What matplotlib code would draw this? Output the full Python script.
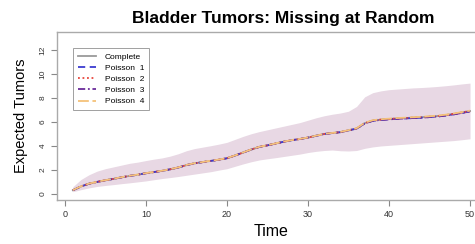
import numpy as np
import matplotlib.pyplot as plt

plt.rcParams['font.family'] = ['Liberation Sans', 'DejaVu Sans']

# time points
time = list(range(1, 51))

# expected tumors, complete data
complete = [0.30, 0.62, 0.85, 1.00, 1.13, 1.25, 1.38, 1.50, 1.60, 1.72,
            1.82, 1.92, 2.05, 2.20, 2.40, 2.55, 2.65, 2.75, 2.85, 2.97,
            3.20, 3.45, 3.70, 3.92, 4.05, 4.20, 4.35, 4.48, 4.58, 4.70,
            4.85, 5.00, 5.08, 5.15, 5.30, 5.45, 5.90, 6.12, 6.20, 6.25,
            6.30, 6.33, 6.37, 6.40, 6.45, 6.50, 6.58, 6.68, 6.80, 6.92]

# poisson fits (lie on top of the complete curve)
poisson1 = [0.30, 0.62, 0.85, 1.00, 1.13, 1.25, 1.38, 1.50, 1.60, 1.72,
            1.82, 1.92, 2.05, 2.20, 2.40, 2.55, 2.65, 2.75, 2.85, 2.97,
            3.20, 3.45, 3.70, 3.92, 4.05, 4.20, 4.35, 4.48, 4.58, 4.70,
            4.85, 5.00, 5.08, 5.15, 5.30, 5.45, 5.88, 6.10, 6.18, 6.22,
            6.27, 6.30, 6.33, 6.36, 6.41, 6.46, 6.54, 6.64, 6.76, 6.88]
poisson2 = [0.30, 0.62, 0.85, 1.00, 1.13, 1.25, 1.38, 1.50, 1.60, 1.72,
            1.82, 1.92, 2.05, 2.20, 2.40, 2.55, 2.65, 2.75, 2.85, 2.97,
            3.20, 3.45, 3.70, 3.92, 4.05, 4.20, 4.35, 4.48, 4.58, 4.70,
            4.85, 5.00, 5.08, 5.15, 5.30, 5.45, 5.90, 6.12, 6.20, 6.25,
            6.30, 6.33, 6.37, 6.40, 6.45, 6.50, 6.58, 6.68, 6.80, 6.92]
poisson3 = [0.30, 0.62, 0.85, 1.00, 1.13, 1.25, 1.38, 1.50, 1.60, 1.72,
            1.82, 1.92, 2.05, 2.20, 2.40, 2.55, 2.65, 2.75, 2.85, 2.97,
            3.20, 3.45, 3.70, 3.92, 4.05, 4.20, 4.35, 4.48, 4.58, 4.70,
            4.85, 5.00, 5.08, 5.15, 5.30, 5.45, 5.88, 6.10, 6.18, 6.22,
            6.27, 6.30, 6.33, 6.36, 6.41, 6.46, 6.54, 6.64, 6.76, 6.88]
poisson4 = [0.31, 0.63, 0.86, 1.01, 1.14, 1.26, 1.39, 1.51, 1.61, 1.73,
            1.83, 1.93, 2.06, 2.21, 2.41, 2.56, 2.66, 2.76, 2.86, 2.98,
            3.21, 3.46, 3.71, 3.93, 4.06, 4.21, 4.36, 4.49, 4.59, 4.71,
            4.86, 5.01, 5.09, 5.17, 5.32, 5.48, 5.93, 6.15, 6.23, 6.28,
            6.33, 6.36, 6.40, 6.43, 6.48, 6.53, 6.61, 6.71, 6.83, 6.95]

# confidence band
band_low = [0.18, 0.35, 0.50, 0.62, 0.70, 0.77, 0.85, 0.92, 1.00, 1.08,
            1.18, 1.28, 1.36, 1.45, 1.55, 1.65, 1.75, 1.85, 1.98, 2.10,
            2.30, 2.50, 2.68, 2.83, 2.93, 3.02, 3.12, 3.22, 3.32, 3.45,
            3.55, 3.62, 3.66, 3.60, 3.58, 3.62, 3.80, 3.92, 4.00, 4.05,
            4.10, 4.15, 4.20, 4.25, 4.30, 4.35, 4.40, 4.45, 4.52, 4.60]
band_high = [0.60, 1.20, 1.60, 1.90, 2.10, 2.25, 2.40, 2.55, 2.65, 2.78,
             2.90, 3.00, 3.15, 3.35, 3.60, 3.78, 3.90, 4.02, 4.15, 4.30,
             4.55, 4.80, 5.02, 5.20, 5.35, 5.50, 5.65, 5.80, 5.95, 6.15,
             6.35, 6.52, 6.65, 6.75, 6.90, 7.30, 8.10, 8.45, 8.60, 8.70,
             8.75, 8.80, 8.85, 8.88, 8.92, 8.97, 9.03, 9.10, 9.18, 9.25]

labels = ['Complete', 'Poisson  1', 'Poisson  2', 'Poisson  3', 'Poisson  4']
colors = ['#9a9a9a', '#3b3bd0', '#e8453c', '#6a2c9a', '#f5c27a']
styles = ['-', (0, (4, 2.5)), (0, (1, 1.5)), (0, (4, 1.5, 1, 1.5)), (0, (6, 2))]

fig = plt.figure(figsize=(4.75, 2.44), dpi=100)
ax = fig.add_axes([0.12, 0.18, 0.903, 0.689])

ax.fill_between(time, band_low, band_high, color='#e8d8e4', linewidth=0)
series = [complete, poisson1, poisson2, poisson3, poisson4]
for s, lab, c, ls in zip(series, labels, colors, styles):
    ax.plot(time, s, color=c, linestyle=ls, linewidth=1.3, label=lab)

ax.set_xlim(-0.96, 51.96)
ax.set_ylim(-0.52, 13.52)
ax.set_xticks([0, 10, 20, 30, 40, 50])
ax.set_yticks([0, 2, 4, 6, 8, 10, 12])
ax.tick_params(axis='x', labelsize=6.5, colors='#888888', labelcolor='#333333', length=4, width=0.8)
ax.tick_params(axis='y', labelsize=6, colors='#888888', labelcolor='#333333', length=4, width=0.8,
               labelrotation=90)
for lab in ax.get_yticklabels():
    lab.set_verticalalignment('center')
for sp in ax.spines.values():
    sp.set_color('#aaaaaa')
    sp.set_linewidth(1.0)

ax.set_xlabel('Time', fontsize=11.5, labelpad=3)
ax.set_ylabel('Expected Tumors', fontsize=10.5, labelpad=8)
fig.text(0.596, 0.926, 'Bladder Tumors: Missing at Random', ha='center', va='center',
         fontsize=12.5, fontweight='bold')

leg = ax.legend(loc='upper left', bbox_to_anchor=(0.037, 0.905), fontsize=6, frameon=True,
                fancybox=False, edgecolor='#888888', handlelength=2.2, labelspacing=0.4,
                borderpad=0.6, handletextpad=1.0, borderaxespad=0)
leg.get_frame().set_linewidth(0.7)

plt.savefig('out.png', dpi=100)
